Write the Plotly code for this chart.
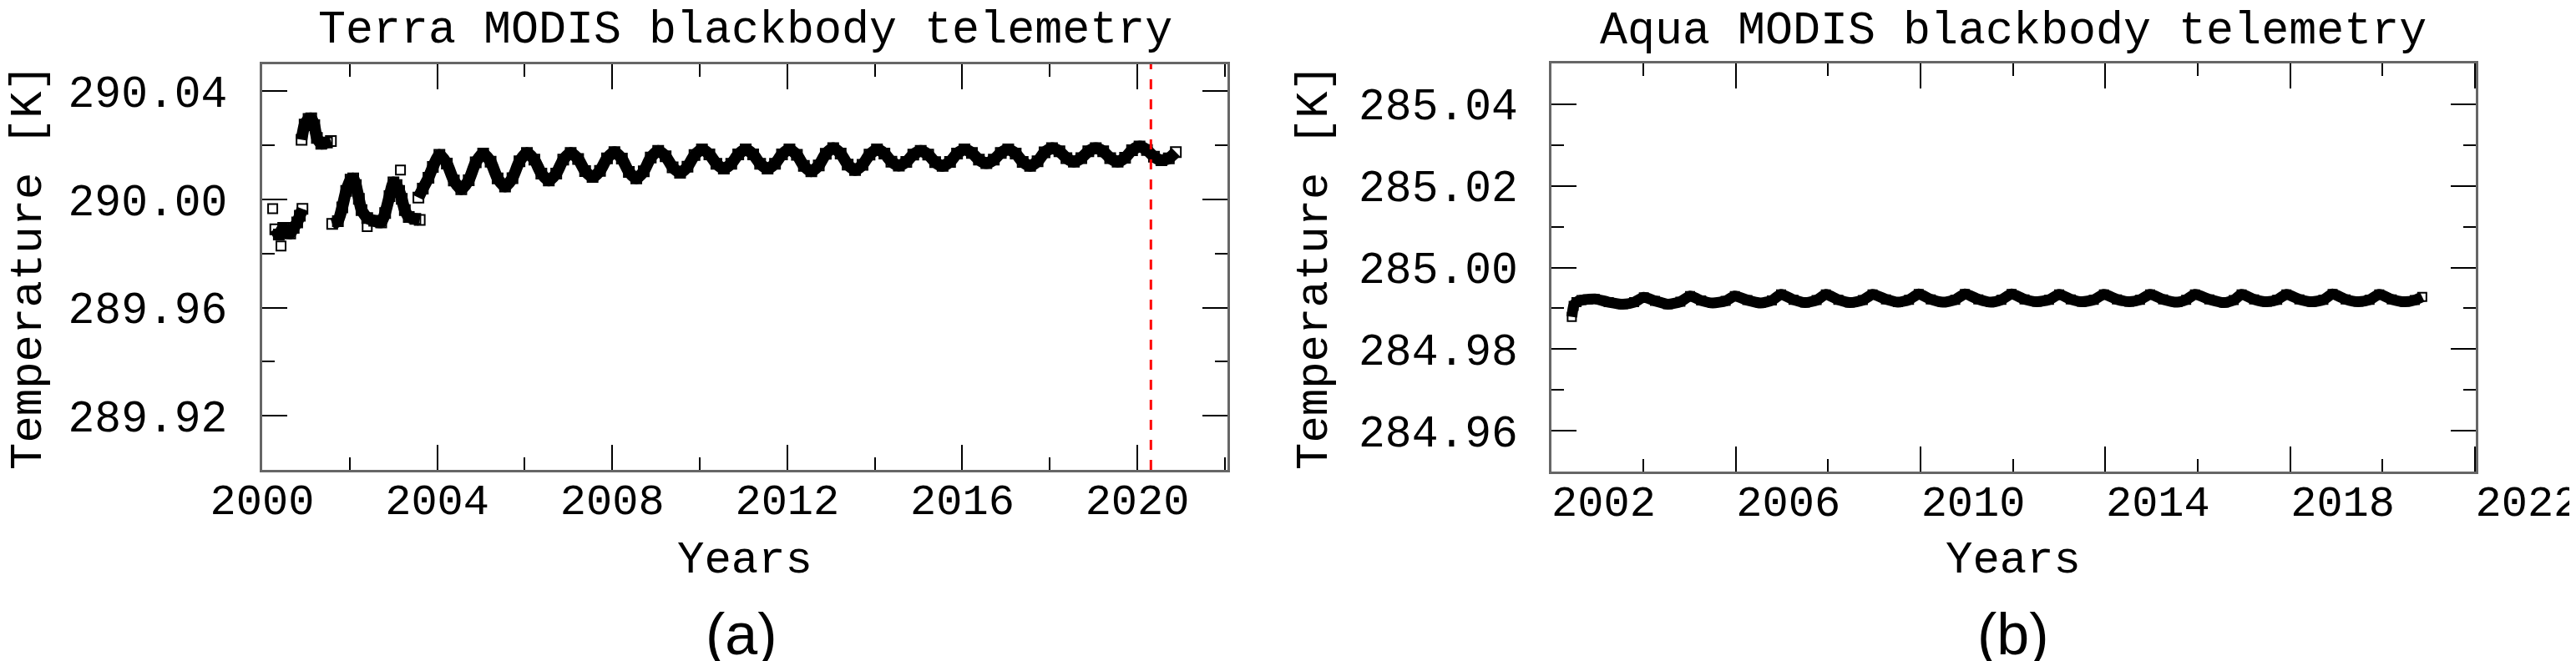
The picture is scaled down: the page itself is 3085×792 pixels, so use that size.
import plotly.graph_objects as go
from plotly.subplots import make_subplots

# Terra MODIS blackbody temperature (K), three early segments + long record
terra_year = [
    2000.30, 2000.38, 2000.48, 2000.56, 2000.64, 2000.72, 2000.80, 2000.86, 2000.92,
    None,
    2000.90, 2000.97, 2001.06, 2001.12, 2001.19, 2001.25, 2001.35, 2001.48, 2001.57,
    None,
    2001.60, 2001.73, 2001.83, 2001.92, 2002.02, 2002.08, 2002.14, 2002.21, 2002.27,
    2002.40, 2002.56, 2002.72, 2002.81, 2002.91, 2003.00, 2003.07, 2003.13, 2003.19,
    2003.26, 2003.35, 2003.50, 2003.60,
    None,
    2003.57, 2003.67, 2003.80, 2003.90,
    2004.05, 2004.22, 2004.38, 2004.55, 2004.72, 2004.88,
    2005.05, 2005.22, 2005.38, 2005.55, 2005.72, 2005.88,
    2006.05, 2006.22, 2006.38, 2006.55, 2006.72, 2006.88,
    2007.05, 2007.22, 2007.38, 2007.55, 2007.72, 2007.88,
    2008.05, 2008.22, 2008.38, 2008.55, 2008.72, 2008.88,
    2009.05, 2009.22, 2009.38, 2009.55, 2009.72, 2009.88,
    2010.05, 2010.22, 2010.38, 2010.55, 2010.72, 2010.88,
    2011.05, 2011.22, 2011.38, 2011.55, 2011.72, 2011.88,
    2012.05, 2012.22, 2012.38, 2012.55, 2012.72, 2012.88,
    2013.05, 2013.22, 2013.38, 2013.55, 2013.72, 2013.88,
    2014.05, 2014.22, 2014.38, 2014.55, 2014.72, 2014.88,
    2015.05, 2015.22, 2015.38, 2015.55, 2015.72, 2015.88,
    2016.05, 2016.22, 2016.38, 2016.55, 2016.72, 2016.88,
    2017.05, 2017.22, 2017.38, 2017.55, 2017.72, 2017.88,
    2018.05, 2018.22, 2018.38, 2018.55, 2018.72, 2018.88,
    2019.05, 2019.22, 2019.38, 2019.55, 2019.72, 2019.88,
    2020.05, 2020.22, 2020.38, 2020.55, 2020.72, 2020.88,
]
terra_temp = [
    289.9890, 289.9870, 289.9895, 289.9880, 289.9874, 289.9895, 289.9915, 289.9940, 289.9965,
    None,
    290.0221, 290.0277, 290.0298, 290.0300, 290.0275, 290.0228, 290.0206, 290.0211, 290.0216,
    None,
    289.9910, 289.9920, 289.9971, 290.0032, 290.0073, 290.0078, 290.0053, 290.0002, 289.9961,
    289.9931, 289.9921, 289.9915, 289.9950, 290.0012, 290.0063, 290.0053, 290.0032, 290.0002,
    289.9961, 289.9935, 289.9928, 289.9924,
    None,
    290.0007, 290.0040, 290.0080, 290.0120,
    290.0165, 290.0133, 290.0070, 290.0038, 290.0071, 290.0137,
    290.0170, 290.0140, 290.0078, 290.0048, 290.0079, 290.0141,
    290.0172, 290.0147, 290.0096, 290.0070, 290.0096, 290.0147,
    290.0172, 290.0150, 290.0105, 290.0083, 290.0106, 290.0152,
    290.0175, 290.0151, 290.0102, 290.0078, 290.0104, 290.0155,
    290.0180, 290.0160, 290.0119, 290.0099, 290.0121, 290.0164,
    290.0185, 290.0167, 290.0132, 290.0114, 290.0132, 290.0167,
    290.0185, 290.0167, 290.0132, 290.0114, 290.0132, 290.0167,
    290.0185, 290.0165, 290.0124, 290.0104, 290.0126, 290.0169,
    290.0190, 290.0170, 290.0129, 290.0109, 290.0128, 290.0166,
    290.0185, 290.0170, 290.0140, 290.0125, 290.0139, 290.0166,
    290.0180, 290.0166, 290.0138, 290.0124, 290.0139, 290.0170,
    290.0185, 290.0172, 290.0147, 290.0134, 290.0147, 290.0172,
    290.0185, 290.0170, 290.0139, 290.0124, 290.0141, 290.0174,
    290.0190, 290.0178, 290.0153, 290.0140, 290.0153, 290.0178,
    290.0190, 290.0178, 290.0153, 290.0140, 290.0154, 290.0182,
    290.0196, 290.0183, 290.0158, 290.0145, 290.0152, 290.0175,
]
# isolated Terra samples
terra_out_year = [2000.24, 2000.43, 2002.40, 2003.16]
terra_out_temp = [289.9966, 289.9828, 289.9900, 290.0109]
terra_event = 2020.31

# Aqua MODIS blackbody temperature (K)
aqua_year = [
    2002.45, 2002.49, 2002.55, 2002.66, 2002.80, 2002.95,
    2003.25, 2003.56, 2003.80, 2004.01, 2004.25, 2004.53, 2004.80,
    2005.01, 2005.25, 2005.50, 2005.78, 2005.98, 2006.25, 2006.54, 2006.78,
    2006.98, 2007.25, 2007.50, 2007.75, 2007.95, 2008.22, 2008.47, 2008.75,
    2008.96, 2009.25, 2009.51, 2009.75, 2009.96, 2010.22, 2010.48, 2010.75,
    2010.96, 2011.25, 2011.52, 2011.75, 2011.97, 2012.25, 2012.52, 2012.78,
    2013.00, 2013.25, 2013.49, 2013.75, 2013.97, 2014.25, 2014.52, 2014.75,
    2014.97, 2015.25, 2015.56, 2015.75, 2015.94, 2016.25, 2016.57, 2016.78,
    2016.95, 2017.22, 2017.50, 2017.72, 2017.92, 2018.20, 2018.47, 2018.72,
    2018.92, 2019.20, 2019.48, 2019.72, 2019.93, 2020.20, 2020.48, 2020.70,
    2020.86,
]
aqua_temp = [
    284.9879, 284.9906, 284.9915, 284.9920, 284.9922, 284.9923,
    284.9915, 284.9910, 284.9915, 284.9927, 284.9918, 284.9910, 284.9916,
    284.9930, 284.9919, 284.9913, 284.9918, 284.9930, 284.9920, 284.9913, 284.9919,
    284.9934, 284.9921, 284.9914, 284.9920, 284.9934, 284.9921, 284.9914, 284.9920,
    284.9934, 284.9922, 284.9915, 284.9921, 284.9935, 284.9922, 284.9915, 284.9921,
    284.9935, 284.9922, 284.9915, 284.9921, 284.9935, 284.9922, 284.9916, 284.9921,
    284.9934, 284.9922, 284.9916, 284.9921, 284.9934, 284.9922, 284.9916, 284.9921,
    284.9934, 284.9922, 284.9915, 284.9921, 284.9934, 284.9922, 284.9914, 284.9920,
    284.9934, 284.9922, 284.9916, 284.9921, 284.9934, 284.9922, 284.9916, 284.9921,
    284.9935, 284.9922, 284.9916, 284.9921, 284.9934, 284.9922, 284.9916, 284.9920,
    284.9928,
]

W, H = 3085, 792
MONO = "Liberation Mono"

fig = make_subplots(rows=1, cols=2)

fig.add_trace(go.Scatter(x=terra_year, y=terra_temp, mode='lines+markers',
                         line=dict(color='black', width=14, shape='spline', smoothing=0.6),
                         marker=dict(symbol='square-open', size=12, color='black', line=dict(width=2)),
                         connectgaps=False, showlegend=False), row=1, col=1)
fig.add_trace(go.Scatter(x=terra_out_year, y=terra_out_temp, mode='markers',
                         marker=dict(symbol='square-open', size=11, color='black', line=dict(width=2)),
                         showlegend=False), row=1, col=1)
fig.add_trace(go.Scatter(x=aqua_year, y=aqua_temp, mode='lines+markers',
                         line=dict(color='black', width=13, shape='spline', smoothing=0.6),
                         marker=dict(symbol='square-open', size=10, color='black', line=dict(width=2)),
                         showlegend=False), row=1, col=2)

fig.add_shape(type='line', xref='x', yref='y domain', x0=terra_event, x1=terra_event, y0=0, y1=1,
              line=dict(color='red', width=3, dash='12px,12px'))

axis_common = dict(showline=True, linecolor='#666666', linewidth=3, mirror='allticks',
                   ticks='inside', ticklen=30, tickwidth=2, tickcolor='black',
                   showgrid=False, zeroline=False, automargin=False, ticklabeloverflow='allow',
                   tickfont=dict(family=MONO, size=53, color='black'))

fig.update_xaxes(axis_common)
fig.update_yaxes(axis_common)
fig.update_xaxes(tickfont_size=52)

fig.update_xaxes(row=1, col=1, domain=[306 / W, 1462 / W], range=[2000, 2022.06],
                 tick0=2000, dtick=4, ticklabelstandoff=-12,
                 minor=dict(ticks='inside', ticklen=15, tickwidth=2, tickcolor='black', dtick=2, tick0=2000))
fig.update_xaxes(row=1, col=2, domain=[1849.5 / W, 2957 / W], range=[2002, 2022.02],
                 tick0=2002, dtick=4, ticklabelstandoff=-12, ticklabelshift=63,
                 minor=dict(ticks='inside', ticklen=15, tickwidth=2, tickcolor='black', dtick=2, tick0=2002))
fig.update_yaxes(row=1, col=1, domain=[1 - 555 / H, 1 - 69 / H], range=[289.90, 290.05],
                 tick0=290.0, dtick=0.04, tickformat='.2f', ticklabelstandoff=28,
                 minor=dict(ticks='inside', ticklen=15, tickwidth=2, tickcolor='black', dtick=0.02, tick0=290.0))
fig.update_yaxes(row=1, col=2, domain=[1 - 557 / H, 1 - 68 / H], range=[284.95, 285.05],
                 tick0=285.0, dtick=0.02, tickformat='.2f', ticklabelstandoff=26,
                 minor=dict(ticks='inside', ticklen=15, tickwidth=2, tickcolor='black', dtick=0.01, tick0=285.0))

texts = [
    ("Terra MODIS blackbody telemetry", 884, 28, 0, MONO, 55),
    ("Aqua MODIS blackbody telemetry", 2403, 29, 0, MONO, 55),
    ("Years", 884, 663, 0, MONO, 54),
    ("Years", 2403, 663, 0, MONO, 54),
    ("Temperature [K]", 26, 312, -90, MONO, 54),
    ("Temperature [K]", 1566, 312, -90, MONO, 54),
    ("(a)", 880, 752, 0, "Liberation Sans", 70),
    ("(b)", 2403, 752, 0, "Liberation Sans", 70),
]
for txt, px, py, ang, fam, sz in texts:
    fig.add_annotation(text=txt, x=px / W, y=1 - py / H, xref='paper', yref='paper',
                       xanchor='center', yanchor='middle', textangle=ang, showarrow=False,
                       font=dict(family=fam, size=sz, color='black'))

fig.update_layout(width=W, height=H, margin=dict(l=0, r=0, t=0, b=0),
                  plot_bgcolor='white', paper_bgcolor='white')

fig.write_html("out.html")
